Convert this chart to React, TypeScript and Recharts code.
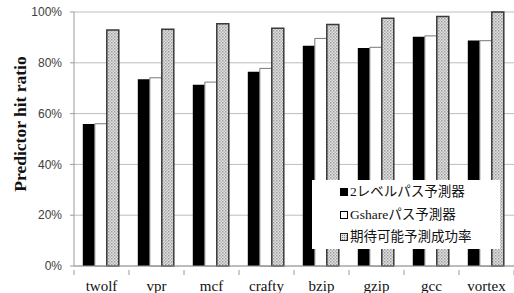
import React from "react";
import { BarChart, Bar, XAxis, YAxis, CartesianGrid } from "recharts";

const categories = ["twolf", "vpr", "mcf", "crafty", "bzip", "gzip", "gcc", "vortex"];
const twoLevel = [55.9, 73.5, 71.4, 76.5, 86.7, 85.8, 90.3, 88.8];
const gshare = [56.0, 74.1, 72.4, 77.8, 89.6, 86.1, 90.6, 88.7];
const expected = [92.9, 93.2, 95.4, 93.6, 95.1, 97.5, 98.2, 100];
const yTicks = [0, 20, 40, 60, 80, 100];
const seriesNames = ["2レベルパス予測器", "Gshareパス予測器", "期待可能予測成功率"];

const data = categories.map((c, i) => ({
  name: c,
  a: twoLevel[i],
  b: gshare[i],
  c: expected[i],
}));

const XTick = (props: any) => {
  const { x, y, payload, index } = props;
  const half = payload && payload.offset ? payload.offset : 27.5;
  const axisY = y - 4;
  return (
    <g>
      <line x1={x - half} x2={x - half} y1={axisY} y2={axisY + 5} stroke="#9a9a9a" />
      {index === categories.length - 1 && (
        <line x1={x + half} x2={x + half} y1={axisY} y2={axisY + 5} stroke="#9a9a9a" />
      )}
      <text
        x={x}
        y={y + 17}
        textAnchor="middle"
        fontFamily="'Liberation Serif', 'Times New Roman', serif"
        fontSize={15}
        fill="#111"
      >
        {payload.value}
      </text>
    </g>
  );
};

const Swatch = ({ kind }: { kind: number }) => (
  <svg width={8} height={8} style={{ display: "inline-block", marginRight: 2, verticalAlign: "0px" }}>
    <defs>
      <pattern id={`ldots${kind}`} width={2} height={2} patternUnits="userSpaceOnUse">
        <rect width={2} height={2} fill="#e2e2e2" />
        <rect width={1} height={1} fill="#8c8c8c" />
      </pattern>
    </defs>
    {kind === 0 && <rect x={0} y={0} width={8} height={8} fill="#000" />}
    {kind === 1 && <rect x={0.5} y={0.5} width={7} height={7} fill="#fff" stroke="#000" />}
    {kind === 2 && <rect x={0.5} y={0.5} width={7} height={7} fill={`url(#ldots${kind})`} stroke="#222" />}
  </svg>
);

const LegendBox = () => (
  <div
    style={{
      position: "absolute",
      left: 312,
      top: 180,
      background: "#fff",
      width: 188,
      height: 69,
      boxSizing: "border-box",
      paddingLeft: 28,
      paddingTop: 1,
      fontFamily: "'Liberation Serif', 'Noto Sans CJK JP', serif",
      fontSize: 13.5,
      color: "#111",
      lineHeight: "22.5px",
    }}
  >
    {seriesNames.map((n, i) => (
      <div key={n} style={{ whiteSpace: "nowrap" }}>
        <Swatch kind={i} />
        {n}
      </div>
    ))}
  </div>
);

export default function App() {
  return (
    <div style={{ position: "absolute", left: 0, top: 0, width: 514, height: 293, background: "#fff" }}>
      <BarChart
        width={514}
        height={293}
        data={data}
        margin={{ top: 12, right: 0, bottom: 0, left: 0 }}
        barCategoryGap="16%"
        barGap={0}
      >
        <defs>
          <pattern id="dots" width={3} height={3} patternUnits="userSpaceOnUse">
            <rect width={3} height={3} fill="#e2e2e2" />
            <rect width={1.5} height={1.5} fill="#9c9c9c" />
            <rect x={1.5} y={1.5} width={1.5} height={1.5} fill="#b4b4b4" />
          </pattern>
        </defs>
        <CartesianGrid vertical={false} stroke="#bdbdbd" />
        <XAxis
          dataKey="name"
          height={27}
          tickLine={false}
          axisLine={{ stroke: "#9a9a9a" }}
          tick={<XTick />}
          interval={0}
        />
        <YAxis
          width={74}
          domain={[0, 100]}
          ticks={yTicks}
          tickFormatter={(v: number) => `${v}%`}
          tickSize={4}
          tickMargin={8}
          axisLine={{ stroke: "#9a9a9a" }}
          tickLine={{ stroke: "#9a9a9a" }}
          tick={{ fontFamily: "'Liberation Sans', Arial, sans-serif", fontSize: 12, fill: "#404040" }}
          label={() => (
            <text
              x={20}
              y={124}
              transform="rotate(-90 20 124)"
              textAnchor="middle"
              dominantBaseline="central"
              fontFamily="'Liberation Serif', 'Times New Roman', serif"
              fontWeight="bold"
              fontSize={17.5}
              fill="#111"
            >
              Predictor hit ratio
            </text>
          )}
        />
        <Bar dataKey="a" name={seriesNames[0]} fill="#000" isAnimationActive={false} />
        <Bar dataKey="b" name={seriesNames[1]} fill="#fff" stroke="#777" strokeWidth={1} isAnimationActive={false} />
        <Bar dataKey="c" name={seriesNames[2]} fill="url(#dots)" stroke="#3a3a3a" strokeWidth={1.5} isAnimationActive={false} />
      </BarChart>
      <LegendBox />
    </div>
  );
}
